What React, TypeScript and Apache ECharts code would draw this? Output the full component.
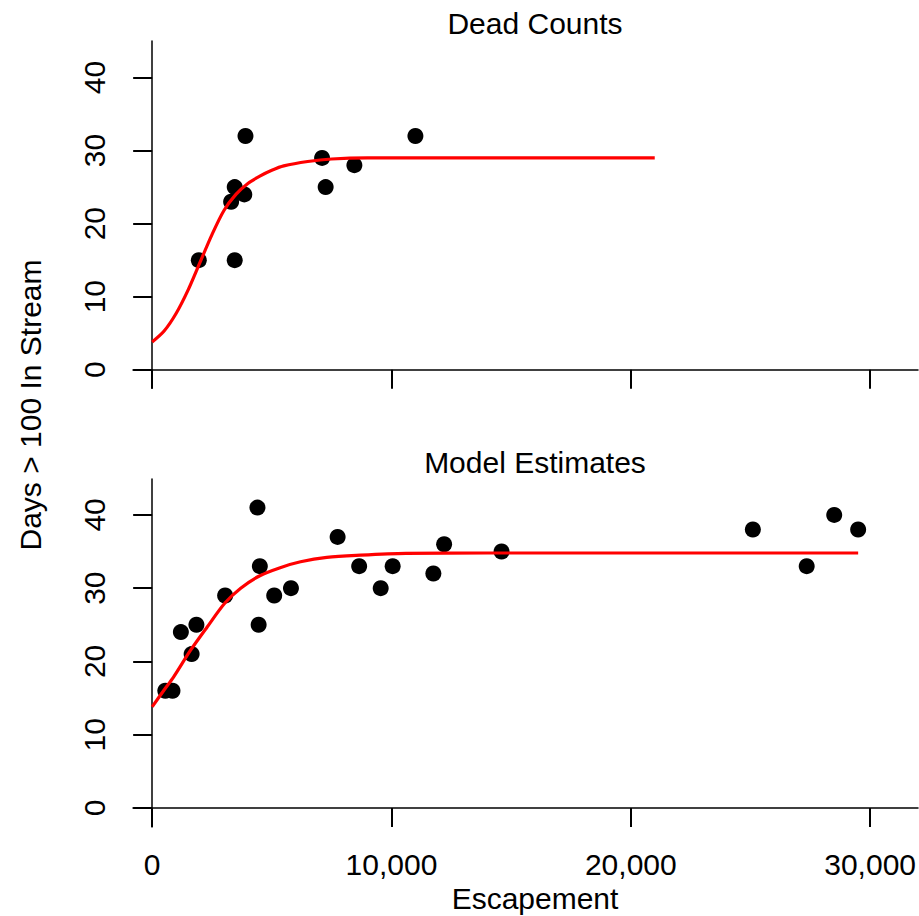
import React, { useEffect, useRef } from "react";
import * as echarts from "echarts";

const xTicks = [0, 10000, 20000, 30000];
const xTickLabels = ["0", "10,000", "20,000", "30,000"];
const yTicks = [0, 10, 20, 30, 40];

const deadCounts: number[][] = [
  [3900, 32], [11000, 32], [7100, 29], [8450, 28], [7250, 25],
  [3450, 25], [3850, 24], [3300, 23], [1950, 15], [3450, 15],
];

const modelEstimates: number[][] = [
  [4400, 41], [7750, 37], [12200, 36], [14600, 35], [4500, 33],
  [8650, 33], [10050, 33], [11750, 32], [9550, 30], [5800, 30],
  [5100, 29], [3050, 29], [4450, 25], [1850, 25], [1200, 24],
  [1650, 21], [550, 16], [850, 16], [25100, 38], [28500, 40],
  [29500, 38], [27350, 33],
];

const deadCurve: number[][] = [
  [0, 3.8], [500, 5.3], [1000, 7.7], [1500, 10.9], [2000, 14.7],
  [2500, 18.5], [3000, 21.8], [3500, 24.0], [4000, 25.5], [4500, 26.5],
  [5000, 27.3], [5500, 27.9], [6500, 28.5], [7500, 28.85], [9000, 29.0],
  [13000, 29.0], [21000, 29.0],
];

const modelCurve: number[][] = [
  [0, 13.8], [500, 16.1], [900, 17.9], [1600, 21.5], [2300, 24.7],
  [3050, 28.0], [3700, 30.0], [4500, 31.7], [5350, 32.8], [6200, 33.6],
  [7300, 34.2], [8700, 34.5], [10600, 34.75], [14000, 34.8], [29500, 34.8],
];

const FONT = "'Liberation Sans', Arial, Helvetica, sans-serif";
const FS = 30;

function makeX(gridIndex: number, showLabels: boolean) {
  return {
    type: "value",
    gridIndex,
    min: -800,
    max: 32000,
    splitLine: { show: false },
    axisLine: { show: true, onZero: true, lineStyle: { color: "#000", width: 1.5 } },
    axisTick: {
      show: true,
      customValues: xTicks,
      length: 19,
      inside: false,
      lineStyle: { color: "#000", width: 2 },
    },
    axisLabel: {
      show: showLabels,
      customValues: xTicks,
      margin: 22,
      color: "#000",
      fontSize: FS,
      fontFamily: FONT,
      formatter: (v: number) => {
        const i = xTicks.indexOf(v);
        return i >= 0 ? xTickLabels[i] : "";
      },
    },
  };
}

function makeY(gridIndex: number, min: number, max: number) {
  return {
    type: "value",
    gridIndex,
    min,
    max,
    splitLine: { show: false },
    axisLine: { show: true, onZero: true, lineStyle: { color: "#000", width: 1.5 } },
    axisTick: {
      show: true,
      customValues: yTicks,
      length: 19,
      inside: false,
      lineStyle: { color: "#000", width: 2 },
    },
    axisLabel: {
      show: true,
      customValues: yTicks,
      rotate: 90,
      margin: 24,
      color: "#000",
      fontSize: FS,
      fontFamily: FONT,
    },
  };
}

export default function App() {
  const ref = useRef<HTMLDivElement>(null);
  useEffect(() => {
    if (!ref.current) return;
    const chart = echarts.init(ref.current, null, { renderer: "svg" });
    chart.setOption({
      animation: false,
      backgroundColor: "#fff",
      grid: [
        { left: 133, top: 41, width: 785, height: 347 },
        { left: 133, top: 479, width: 785, height: 348 },
      ],
      xAxis: [makeX(0, false), makeX(1, true)],
      yAxis: [makeY(0, -2.5, 45), makeY(1, -2.6, 44.9)],
      graphic: [
        {
          type: "text", x: 535, y: 23,
          style: { text: "Dead Counts", fontSize: FS, fontFamily: FONT, fill: "#000", textAlign: "center", textVerticalAlign: "middle" },
        },
        {
          type: "text", x: 535, y: 462,
          style: { text: "Model Estimates", fontSize: FS, fontFamily: FONT, fill: "#000", textAlign: "center", textVerticalAlign: "middle" },
        },
        {
          type: "text", x: 535, y: 898,
          style: { text: "Escapement", fontSize: FS, fontFamily: FONT, fill: "#000", textAlign: "center", textVerticalAlign: "middle" },
        },
        {
          type: "text", x: 30, y: 405, rotation: Math.PI / 2,
          style: { text: "Days > 100 In Stream", fontSize: FS, fontFamily: FONT, fill: "#000", textAlign: "center", textVerticalAlign: "middle" },
        },
      ],
      series: [
        {
          type: "scatter", xAxisIndex: 0, yAxisIndex: 0, data: deadCounts,
          symbol: "circle", symbolSize: 16, itemStyle: { color: "#000", opacity: 1 }, z: 2,
        },
        {
          type: "line", xAxisIndex: 0, yAxisIndex: 0, data: deadCurve,
          showSymbol: false, smooth: 0.3, lineStyle: { color: "#ff0000", width: 3.2 }, z: 3,
        },
        {
          type: "scatter", xAxisIndex: 1, yAxisIndex: 1, data: modelEstimates,
          symbol: "circle", symbolSize: 16, itemStyle: { color: "#000", opacity: 1 }, z: 2,
        },
        {
          type: "line", xAxisIndex: 1, yAxisIndex: 1, data: modelCurve,
          showSymbol: false, smooth: 0.3, lineStyle: { color: "#ff0000", width: 3.2 }, z: 3,
        },
      ],
    });
    return () => chart.dispose();
  }, []);
  return (
    <div
      ref={ref}
      style={{ position: "fixed", left: 0, top: 0, width: 919, height: 916, background: "#fff" }}
    />
  );
}
